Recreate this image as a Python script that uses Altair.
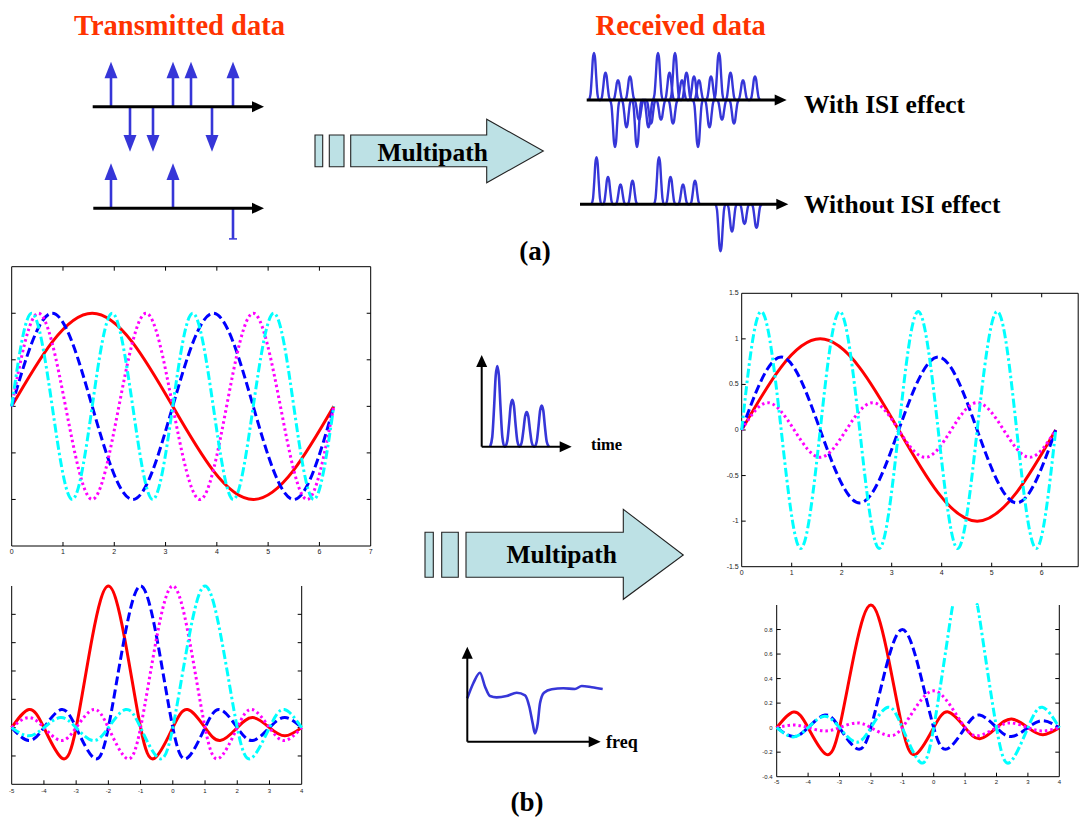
import altair as alt
import pandas as pd

W, H = 1079, 821

# ============================ DATA ============================
# (a) transmitted impulses: page-x position and polarity
tx_up_x = [111, 130, 153, 173, 191, 212, 233]
tx_up_sign = [1, -1, -1, 1, 1, -1, 1]
tx_low_x = [111, 173]
tx_low_sign = [1, 1]
tx_low_cut_x = [233]          # downward impulse cut off by the picture edge
tx_low_cut_depth = [-0.68]

# (a) received pulse groups (one group of echoes per transmitted impulse)
rx_up_x = [594, 615, 637, 658, 675, 698, 719]
rx_up_sign = [1, -1, -1, 1, 1, -1, 1]
rx_low_x = [596.5, 659, 720.5]
rx_low_sign = [1, 1, -1]
tap_delay = [0, 11.5, 24, 36]
tap_gain = [1.0, 0.58, 0.42, 0.50]
pulse_t = [-1, -0.7, -0.44, -0.22, 0, 0.22, 0.44, 0.7, 1]
pulse_v = [0, 0.12, 0.5, 0.88, 1, 0.88, 0.5, 0.12, 0]

# (b) channel impulse-response sketch
time_peak_x = [497.3, 512.3, 526.7, 541.7]
time_gain = [1.0, 0.58, 0.43, 0.51]

# (b) channel frequency-response sketch (normalised to its axes)
freq_x = [0, 0.045, 0.095, 0.133, 0.170, 0.220, 0.295, 0.370, 0.433, 0.465, 0.490,
          0.507, 0.528, 0.545, 0.575, 0.633, 0.720, 0.807, 0.858, 0.933, 1.015]
freq_y = [0.457, 0.615, 0.726, 0.579, 0.481, 0.467, 0.481, 0.516, 0.488, 0.368, 0.194,
          0.088, 0.194, 0.404, 0.516, 0.552, 0.562, 0.555, 0.586, 0.573, 0.555]

# (b) sub-carriers in time: zero crossings and extrema of each curve
sin1_x = [0, 1.57, 3.14, 4.71, 6.28]
sin1_y = [0, 1, 0, -1, 0]
sin2_x = [0, 0.79, 1.57, 2.36, 3.14, 3.93, 4.71, 5.50, 6.28]
sin2_y = [0, 1, 0, -1, 0, 1, 0, -1, 0]
sin3_x = [0, 0.52, 1.05, 1.57, 2.09, 2.62, 3.14, 3.67, 4.19, 4.71, 5.24, 5.76, 6.28]
sin3_y = [0, 1, 0, -1, 0, 1, 0, -1, 0, 1, 0, -1, 0]
sin4_x = [0, 0.39, 0.79, 1.18, 1.57, 1.96, 2.36, 2.75, 3.14, 3.53, 3.93, 4.32, 4.71,
          5.11, 5.50, 5.89, 6.28]
sin4_y = [0, 1, 0, -1, 0, 1, 0, -1, 0, 1, 0, -1, 0, 1, 0, -1, 0]
sine_amp_tx = [1, 1, 1, 1]
sine_amp_rx = [1, 0.8, 0.3, 1.3]

# (b) sub-carriers in frequency: one lobe shape, centres and gains
sinc_u = [-6, -5.48, -5, -4.48, -4, -3.47, -3, -2.46, -2, -1.43, -1, -0.5, 0,
          0.5, 1, 1.43, 2, 2.46, 3, 3.47, 4, 4.48, 5, 5.48, 6]
sinc_v = [0, -0.058, 0, 0.071, 0, -0.091, 0, 0.128, 0, -0.217, 0, 0.637, 1,
          0.637, 0, -0.217, 0, 0.128, 0, -0.091, 0, 0.071, 0, -0.058, 0]
sinc_center = [-2, -1, 0, 1]
sinc_amp_tx = [1, 1, 1, 1]
sinc_amp_rx = [1, 0.8, 0.3, 1.3]
rx_cyan_exit_x = [0.62, 1.38]      # where the tall cyan lobe leaves the cropped panel

# tick labels / tick positions
tl_xlabels = [0, 1, 2, 3, 4, 5, 6, 7]
tr_xlabels = [0, 1, 2, 3, 4, 5, 6]
sine_ylabels = [-1.5, -1, -0.5, 0, 0.5, 1, 1.5]
sine_xticks = [1, 2, 3, 4, 5, 6]
sine_yticks = [-1, -0.5, 0, 0.5, 1]
sinc_xlabels = [-5, -4, -3, -2, -1, 0, 1, 2, 3, 4]
sinc_ylabels = [-0.4, -0.2, 0, 0.2, 0.4, 0.6, 0.8]
sinc_xticks = [-4, -3, -2, -1, 0, 1, 2, 3]
sinc_yticks = [-0.2, 0, 0.2, 0.4, 0.6, 0.8]

# ============================ STYLE / LAYOUT ============================
BLUE = "#3636d8"
ORANGE = "#ff3300"
FILL = "#bde1e5"
CURVE_COLORS = ["#ff0000", "#0000ff", "#ff00ff", "#00ffff"]
CURVE_DASH = [None, [9, 4], [2.5, 3], [9, 3, 2.5, 3]]
SERIF = "Liberation Serif"
SANS = "Liberation Sans"

RIGHT_HEAD = "M1,0L-1,-0.92L-1,0.92Z"
UP_HEAD = "M0,-1L0.92,1L-0.92,1Z"
STEM_UP = "M0,-1L0.78,1L-0.78,1Z"
STEM_DOWN = "M0,1L0.78,-1L-0.78,-1Z"


def sc(domain, rng):
    return alt.Scale(domain=domain, range=rng, nice=False, zero=False)


NOAX = None
one_row = pd.DataFrame({"a": [0]})

# ============================ CANVAS (diagram parts) ============================
cx, cy = sc([0, W], [0, W]), sc([0, H], [0, H])

harrow = pd.DataFrame({
    "x0": [92.7, 93.3, 586.7, 580, 481.7, 467.3],
    "tip": [264, 264, 786.7, 788.3, 571.7, 600.7],
    "y": [106.7, 208.3, 100, 204.3, 446.7, 741.7],
    "w": [3, 3, 3, 3, 2, 2],
})
harrow["xe"] = harrow["tip"] - 9
harrow["hx"] = harrow["tip"] - 6
varrow = pd.DataFrame({"x": [481.7, 467.3], "y0": [446.7, 741.7], "tip": [355, 646.7]})
varrow["ye"] = varrow["tip"] + 9
varrow["hy"] = varrow["tip"] + 6

mp_rects = pd.DataFrame({
    "x": [315, 329.3, 425, 441.7], "x2": [322.7, 344, 433.3, 458.3],
    "y": [135, 135, 532.3, 532.3], "y2": [166.7, 166.7, 577.3, 577.3],
})
mp_arrow1 = pd.DataFrame({"x": [350.7, 486.7, 486.7, 543.3],
                          "y": [135, 135, 119.3, 151], "y2": [166.7, 166.7, 182.7, 151]})
mp_arrow2 = pd.DataFrame({"x": [466, 623.3, 623.3, 683.3],
                          "y": [532.3, 532.3, 509.3, 555], "y2": [577.3, 577.3, 599.3, 555]})

txt_center = pd.DataFrame({
    "t": ["Transmitted data", "Received data", "Multipath", "Multipath", "(a)", "(b)"],
    "x": [179.5, 680.7, 432.7, 561.7, 535, 527],
    "y": [35, 35, 160.7, 563.3, 260, 811],
    "s": [28.5, 28.5, 25.5, 25.5, 27, 27],
    "c": [ORANGE, ORANGE, "black", "black", "black", "black"],
})
txt_left = pd.DataFrame({
    "t": ["With ISI effect", "Without ISI effect", "time", "freq"],
    "x": [804, 804, 591, 606],
    "y": [113.3, 213.3, 450, 748.3],
    "s": [25.5, 25.5, 16.5, 18],
})


def cxy(xf, yf):
    return dict(x=alt.X(xf, type="quantitative", scale=cx, axis=NOAX),
                y=alt.Y(yf, type="quantitative", scale=cy, axis=NOAX))


canvas = alt.layer(
    alt.Chart(mp_rects).mark_rect(fill=FILL, stroke="#222", strokeWidth=1.1).encode(
        **cxy("x", "y"), x2="x2:Q", y2="y2:Q"),
    alt.Chart(mp_arrow1).mark_area(fill=FILL, stroke="#222", strokeWidth=1.1, opacity=1,
                                   orient="vertical", interpolate="linear").encode(**cxy("x", "y"), y2="y2:Q"),
    alt.Chart(mp_arrow2).mark_area(fill=FILL, stroke="#222", strokeWidth=1.1, opacity=1,
                                   orient="vertical", interpolate="linear").encode(**cxy("x", "y"), y2="y2:Q"),
    alt.Chart(harrow).mark_rule(color="black").encode(
        **cxy("x0", "y"), x2="xe:Q", strokeWidth=alt.StrokeWidth("w:Q", scale=None)),
    alt.Chart(harrow).mark_point(shape=RIGHT_HEAD, size=144, filled=True, color="black",
                                 opacity=1).encode(**cxy("hx", "y")),
    alt.Chart(varrow).mark_rule(color="black", strokeWidth=2).encode(**cxy("x", "y0"), y2="ye:Q"),
    alt.Chart(varrow).mark_point(shape=UP_HEAD, size=144, filled=True, color="black",
                                 opacity=1).encode(**cxy("x", "hy")),
    alt.Chart(txt_center).mark_text(align="center", baseline="alphabetic", font=SERIF,
                                    fontWeight="bold").encode(
        **cxy("x", "y"), text="t:N", size=alt.Size("s:Q", scale=None),
        color=alt.Color("c:N", scale=None)),
    alt.Chart(txt_left).mark_text(align="left", baseline="alphabetic", font=SERIF,
                                  fontWeight="bold", color="black").encode(
        **cxy("x", "y"), text="t:N", size=alt.Size("s:Q", scale=None)),
)


# ============================ (a) transmitted impulses ============================
def tx_panel(xpos, signs, base, amp_px, cut_x=None, cut_depth=None):
    xs = sc([0, W], [0, W])
    ys = sc([-1, 1], [base + amp_px, base - amp_px])
    d = pd.DataFrame({"x": xpos, "s": signs})
    d["z"] = 0.0
    d["tip"] = d["s"] * 0.75
    d["head"] = d["s"] * (1 - 8.3 / amp_px)

    def enc(yf):
        return dict(x=alt.X("x:Q", scale=xs, axis=NOAX),
                    y=alt.Y(yf, type="quantitative", scale=ys, axis=NOAX))

    layers = [
        alt.Chart(d).mark_rule(color=BLUE, strokeWidth=2.6).encode(**enc("z"), y2="tip:Q"),
        alt.Chart(d[d.s > 0]).mark_point(shape=STEM_UP, size=276, filled=True, color=BLUE,
                                         opacity=1).encode(**enc("head")),
    ]
    if (d.s < 0).any():
        layers.append(alt.Chart(d[d.s < 0]).mark_point(shape=STEM_DOWN, size=276, filled=True,
                                                        color=BLUE, opacity=1).encode(**enc("head")))
    if cut_x:
        c = pd.DataFrame({"x": cut_x, "z": [0.0] * len(cut_x), "tip": cut_depth})
        layers.append(alt.Chart(c).mark_rule(color=BLUE, strokeWidth=2.6).encode(**enc("z"), y2="tip:Q"))
        layers.append(alt.Chart(c).mark_tick(color=BLUE, orient="horizontal", size=8, thickness=1.5,
                                             opacity=1).encode(**enc("tip")))
    return alt.layer(*layers)


# ============================ pulse trains ============================
def pulse_rows(starts, signs, delays, gains, half):
    rows = []
    for g, (s0, sg) in enumerate(zip(starts, signs)):
        i = 0
        for dl, a in zip(delays, gains):
            for t, v in zip(pulse_t, pulse_v):
                rows.append({"g": g, "i": i, "x": s0 + dl + t * half, "v": sg * a * v})
                i += 1
    return pd.DataFrame(rows)


def pulse_panel(df, ydom, yrng, width=2.4):
    xs = sc([0, W], [0, W])
    ys = sc(ydom, yrng)
    return alt.Chart(df).mark_line(color=BLUE, strokeWidth=width, interpolate="monotone").encode(
        x=alt.X("x:Q", scale=xs, axis=NOAX), y=alt.Y("v:Q", scale=ys, axis=NOAX),
        detail="g:N", order="i:Q")


rx_up = pulse_panel(pulse_rows(rx_up_x, rx_up_sign, tap_delay, tap_gain, 5), [-1, 1], [147, 53])
rx_low = pulse_panel(pulse_rows(rx_low_x, rx_low_sign, tap_delay, tap_gain, 5), [-1, 1], [251.3, 157.3])
time_delays = [p - time_peak_x[0] for p in time_peak_x]
time_pan = pulse_panel(pulse_rows([time_peak_x[0]], [1], time_delays, time_gain, 7.2), [0, 1], [446.7, 366], 2.6)

freq_df = pd.DataFrame({"x": freq_x, "y": freq_y, "i": range(len(freq_x))})
freq_pan = alt.Chart(freq_df).mark_line(color=BLUE, strokeWidth=2.6, interpolate="monotone").encode(
    x=alt.X("x:Q", scale=sc([0, 1], [467.3, 600.7]), axis=NOAX),
    y=alt.Y("y:Q", scale=sc([0, 1], [741.7, 646.7]), axis=NOAX), order="i:Q")


# ============================ (b) MATLAB-style plots ============================
def sine_df(amps):
    rows = []
    for c, (xx, yy) in enumerate([(sin1_x, sin1_y), (sin2_x, sin2_y), (sin3_x, sin3_y), (sin4_x, sin4_y)]):
        for i, (x, y) in enumerate(zip(xx, yy)):
            rows.append({"c": c, "seg": 0, "i": i, "x": x, "y": y * amps[c]})
    return pd.DataFrame(rows)


def sinc_df(amps, xd, top=None):
    rows = []
    for c, (ctr, a) in enumerate(zip(sinc_center, amps)):
        pts = [(u + ctr, v * a) for u, v in zip(sinc_u, sinc_v) if xd[0] <= u + ctr <= xd[1]]
        if top is not None and max(p[1] for p in pts) > top:
            left = [p for p in pts if p[0] < rx_cyan_exit_x[0]] + [(rx_cyan_exit_x[0], top)]
            right = [(rx_cyan_exit_x[1], top)] + [p for p in pts if p[0] > rx_cyan_exit_x[1]]
            segs = [left, right]
        else:
            segs = [pts]
        for s, seg in enumerate(segs):
            for i, (x, y) in enumerate(seg):
                rows.append({"c": c, "seg": s, "i": i, "x": x, "y": y})
    return pd.DataFrame(rows)


def plot_panel(df, xd, xr, yd, yr, xlabels, ylabels, lab_size, xticks, yticks, sides,
               frame_top, frame_right, x_pad=2, y_pad=3):
    xs, ys = sc(xd, xr), sc(yd, yr)
    L = 4
    layers = []

    def rule(**kw):
        return alt.Chart(one_row).mark_rule(color="black", strokeWidth=1).encode(**kw)

    # box: bottom and left always, top / right where the original shows them
    layers.append(rule(x=alt.XDatum(xd[0], scale=xs, axis=NOAX), x2=alt.X2Datum(xd[1]),
                       y=alt.YDatum(yd[0], scale=ys, axis=NOAX)))
    layers.append(rule(x=alt.XDatum(xd[0], scale=xs, axis=NOAX),
                       y=alt.YDatum(yd[0], scale=ys, axis=NOAX), y2=alt.Y2Datum(yd[1])))
    if frame_top:
        layers.append(rule(x=alt.XDatum(xd[0], scale=xs, axis=NOAX), x2=alt.X2Datum(xd[1]),
                           y=alt.YDatum(yd[1], scale=ys, axis=NOAX)))
    if frame_right:
        layers.append(rule(x=alt.XDatum(xd[1], scale=xs, axis=NOAX),
                           y=alt.YDatum(yd[0], scale=ys, axis=NOAX), y2=alt.Y2Datum(yd[1])))

    # inward ticks
    xt = pd.DataFrame({"v": xticks})
    yt = pd.DataFrame({"v": yticks})
    if "b" in sides:
        layers.append(alt.Chart(xt).mark_rule(color="black", strokeWidth=1, y2Offset=-L).encode(
            x=alt.X("v:Q", scale=xs, axis=NOAX), y=alt.YDatum(yd[0], scale=ys, axis=NOAX), y2=alt.Y2Datum(yd[0])))
    if "t" in sides:
        layers.append(alt.Chart(xt).mark_rule(color="black", strokeWidth=1, y2Offset=L).encode(
            x=alt.X("v:Q", scale=xs, axis=NOAX), y=alt.YDatum(yd[1], scale=ys, axis=NOAX), y2=alt.Y2Datum(yd[1])))
    if "l" in sides:
        layers.append(alt.Chart(yt).mark_rule(color="black", strokeWidth=1, x2Offset=L).encode(
            y=alt.Y("v:Q", scale=ys, axis=NOAX), x=alt.XDatum(xd[0], scale=xs, axis=NOAX), x2=alt.X2Datum(xd[0])))
    if "r" in sides:
        layers.append(alt.Chart(yt).mark_rule(color="black", strokeWidth=1, x2Offset=-L).encode(
            y=alt.Y("v:Q", scale=ys, axis=NOAX), x=alt.XDatum(xd[1], scale=xs, axis=NOAX), x2=alt.X2Datum(xd[1])))

    # tick labels
    xl = pd.DataFrame({"v": xlabels, "t": [f"{v:g}" for v in xlabels]})
    layers.append(alt.Chart(xl).mark_text(baseline="top", align="center", dy=x_pad, fontSize=lab_size,
                                          font=SANS, color="#222").encode(
        x=alt.X("v:Q", scale=xs, axis=NOAX), y=alt.YDatum(yd[0], scale=ys, axis=NOAX), text="t:N"))
    if ylabels:
        yl = pd.DataFrame({"v": ylabels, "t": [f"{v:g}" for v in ylabels]})
        layers.append(alt.Chart(yl).mark_text(baseline="middle", align="right", dx=-y_pad, fontSize=lab_size,
                                              font=SANS, color="#222").encode(
            y=alt.Y("v:Q", scale=ys, axis=NOAX), x=alt.XDatum(xd[0], scale=xs, axis=NOAX), text="t:N"))

    # curves
    for c in range(4):
        mk = dict(interpolate="natural", color=CURVE_COLORS[c], strokeWidth=3, strokeCap="butt")
        if CURVE_DASH[c]:
            mk["strokeDash"] = CURVE_DASH[c]
        layers.append(alt.Chart(df[df.c == c]).mark_line(**mk).encode(
            x=alt.X("x:Q", scale=xs, axis=NOAX),
            y=alt.Y("y:Q", scale=ys, axis=NOAX),
            detail="seg:N", order="i:Q"))
    return alt.layer(*layers)


tl = plot_panel(sine_df(sine_amp_tx), [0, 7], [11.7, 370.7], [-1.5, 1.5], [546, 266.7],
                tl_xlabels, None, 7, sine_xticks, sine_yticks, "btlr", True, True, x_pad=2)
bl = plot_panel(sinc_df(sinc_amp_tx, [-5, 4]), [-5, 4], [11.7, 301.7], [-0.4, 1], [784.3, 586],
                sinc_xlabels, None, 6, sinc_xticks, sinc_yticks, "blr", False, True, x_pad=4)
tr = plot_panel(sine_df(sine_amp_rx), [0, 6.73], [741.7, 1078.2], [-1.5, 1.5], [566.7, 293.3],
                tr_xlabels, sine_ylabels, 7, sine_xticks, sine_yticks, "btl", True, True,
                x_pad=2, y_pad=3)
br = plot_panel(sinc_df(sinc_amp_rx, [-5, 4], top=1.0), [-5, 4], [776.7, 1059.3], [-0.4, 1], [776.7, 605],
                sinc_xlabels, sinc_ylabels, 6, sinc_xticks, sinc_yticks, "blr", False, True,
                x_pad=2, y_pad=4)

tx_up = tx_panel(tx_up_x, tx_up_sign, 106.7, 45)
tx_low = tx_panel(tx_low_x, tx_low_sign, 208.3, 45, tx_low_cut_x, tx_low_cut_depth)

chart = alt.layer(
    tl, bl, tr, br, tx_up, tx_low, rx_up, rx_low, time_pan, freq_pan, canvas
).resolve_scale(x="independent", y="independent").properties(
    width=W, height=H, autosize=alt.AutoSizeParams(type="none"), padding=0, background="white"
).configure_view(stroke=None)

chart.save("out.html", embed_options={"renderer": "svg", "actions": False})
